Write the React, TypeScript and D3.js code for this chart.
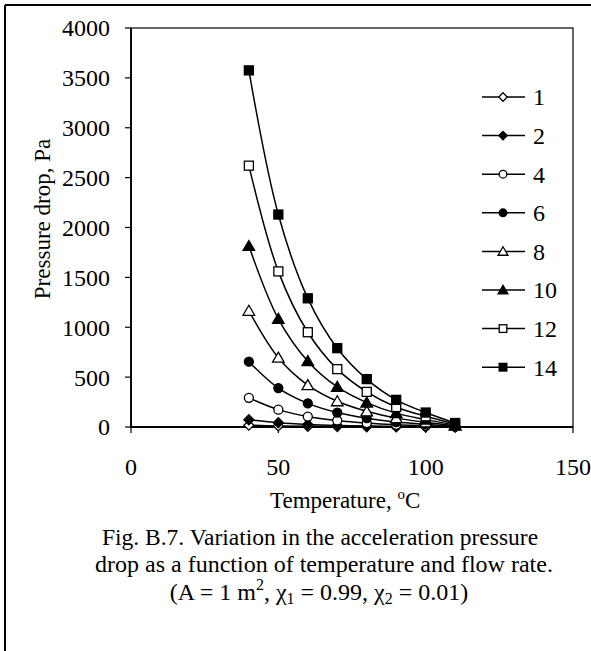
import React from "react";
import * as d3 from "d3";

const temperatures = [40, 50, 60, 70, 80, 90, 100, 110];
const flowRates = ["1", "2", "4", "6", "8", "10", "12", "14"];
const s1 = [18, 11, 7, 4, 2, 1, 1, 0];
const s2 = [73, 43, 26, 16, 10, 6, 3, 1];
const s4 = [292, 174, 105, 65, 39, 22, 12, 3];
const s6 = [655, 390, 237, 145, 88, 50, 27, 7];
const s8 = [1165, 695, 420, 258, 157, 89, 47, 13];
const s10 = [1815, 1085, 660, 402, 245, 139, 74, 20];
const s12 = [2620, 1560, 950, 580, 352, 200, 107, 29];
const s14 = [3575, 2130, 1290, 790, 480, 272, 145, 40];
const seriesValues = [s1, s2, s4, s6, s8, s10, s12, s14];
const markerShapes = ["diamond", "diamond", "circle", "circle", "triangle", "triangle", "square", "square"];
const markerFilled = [false, true, false, true, false, true, false, true];
const xTicks = [0, 50, 100, 150];
const yTicks = [0, 500, 1000, 1500, 2000, 2500, 3000, 3500, 4000];

const W = 591, H = 651;
const FONT = '"Liberation Serif", "Times New Roman", Times, serif';

function Marker({ shape, filled, x, y, s }: { shape: string; filled: boolean; x: number; y: number; s: number }) {
  const fill = filled ? "#000" : "#fff";
  const common = { fill, stroke: "#000", strokeWidth: 1.3 };
  if (shape === "diamond") {
    const r = s * 0.5;
    return <path d={`M${x},${y - r}L${x + r},${y}L${x},${y + r}L${x - r},${y}Z`} {...common} />;
  }
  if (shape === "circle") {
    return <circle cx={x} cy={y} r={s * 0.45} {...common} />;
  }
  if (shape === "triangle") {
    const hw = s * 0.58;
    return <path d={`M${x},${y - s * 0.55}L${x + hw},${y + s * 0.45}L${x - hw},${y + s * 0.45}Z`} {...common} />;
  }
  const h = s * 0.45;
  return <rect x={x - h} y={y - h} width={2 * h} height={2 * h} {...common} />;
}

export default function App() {
  const x = d3.scaleLinear().domain([0, 150]).range([131, 573]);
  const y = d3.scaleLinear().domain([0, 4000]).range([427, 28]);
  const line = d3
    .line<number>()
    .x((_, i) => x(temperatures[i]))
    .y((d) => y(d))
    .curve(d3.curveCatmullRom.alpha(0.5));

  const legendX = 482, legendY0 = 97, legendDy = 38.6;
  const ts = { fontFamily: FONT };
  const capX = 320;

  return (
    <svg width={W} height={H} style={{ position: "absolute", left: 0, top: 0, background: "#fff", fontFamily: FONT }}>
      <rect x={0} y={0} width={W} height={H} fill="#fff" />
      {/* outer frame */}
      <line x1={5} y1={5} x2={W} y2={5} stroke="#000" strokeWidth={2} />
      <line x1={5} y1={5} x2={5} y2={H} stroke="#000" strokeWidth={2} />

      {/* plot area border */}
      <rect x={x(0)} y={y(4000)} width={x(150) - x(0)} height={y(0) - y(4000)} fill="none" stroke="#000" strokeWidth={1.2} />
      {/* axes */}
      <line x1={x(0)} y1={y(0)} x2={x(150)} y2={y(0)} stroke="#000" strokeWidth={1.8} />
      <line x1={x(0)} y1={y(0)} x2={x(0)} y2={y(4000)} stroke="#000" strokeWidth={1.8} />

      {yTicks.map((t) => (
        <g key={"y" + t}>
          <line x1={x(0) - 6} x2={x(0)} y1={y(t)} y2={y(t)} stroke="#000" strokeWidth={1.2} />
          <text style={ts} x={110} y={y(t)} dy="0.35em" textAnchor="end" fontSize={24}>
            {t}
          </text>
        </g>
      ))}
      {xTicks.map((t) => (
        <g key={"x" + t}>
          <line x1={x(t)} x2={x(t)} y1={y(0)} y2={y(0) + 6} stroke="#000" strokeWidth={1.2} />
          <text style={ts} x={x(t)} y={475} textAnchor="middle" fontSize={24}>
            {t}
          </text>
        </g>
      ))}

      {/* series */}
      {seriesValues.map((vals, si) => (
        <g key={"s" + si}>
          <path d={line(vals) || ""} fill="none" stroke="#000" strokeWidth={1.5} />
          {vals.map((v, i) => (
            <Marker key={i} shape={markerShapes[si]} filled={markerFilled[si]} x={x(temperatures[i])} y={y(v)} s={10} />
          ))}
        </g>
      ))}

      {/* legend */}
      {flowRates.map((name, i) => {
        const ly = legendY0 + i * legendDy;
        return (
          <g key={"l" + name}>
            <line x1={legendX} x2={legendX + 43} y1={ly} y2={ly} stroke="#000" strokeWidth={1.5} />
            <Marker shape={markerShapes[i]} filled={markerFilled[i]} x={legendX + 21} y={ly} s={8.5} />
            <text style={ts} x={legendX + 51} y={ly} dy="0.35em" fontSize={24}>
              {name}
            </text>
          </g>
        );
      })}

      {/* axis titles */}
      <text style={ts} x={270} y={508} textAnchor="start" fontSize={23}>
        Temperature, <tspan dy={-9} fontSize={15}>o</tspan>
        <tspan dy={9}>C</tspan>
      </text>
      <text style={ts} transform={`translate(50,${219}) rotate(-90)`} textAnchor="middle" fontSize={23}>
        Pressure drop, Pa
      </text>

      {/* caption */}
      <text style={ts} x={capX} y={545} textAnchor="middle" fontSize={23.5}>
        Fig. B.7. Variation in the acceleration pressure
      </text>
      <text style={ts} x={capX + 4} y={572} textAnchor="middle" fontSize={24}>
        drop as a function of temperature and flow rate.
      </text>
      <text style={ts} x={capX - 1} y={600} textAnchor="middle" fontSize={24}>
        (A = 1 m<tspan dy={-10} fontSize={16}>2</tspan>
        <tspan dy={10}>, χ</tspan>
        <tspan dy={4} fontSize={16}>1</tspan>
        <tspan dy={-4}> = 0.99, χ</tspan>
        <tspan dy={4} fontSize={16}>2</tspan>
        <tspan dy={-4}> = 0.01)</tspan>
      </text>
    </svg>
  );
}
